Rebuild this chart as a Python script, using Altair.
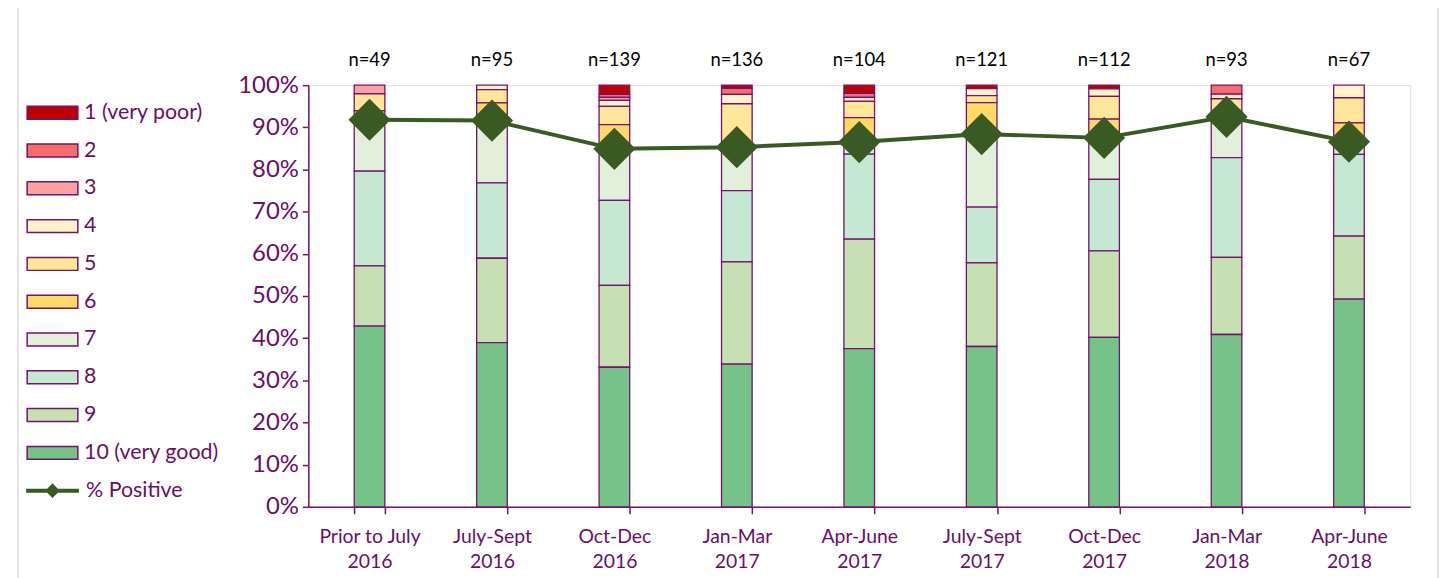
import altair as alt
import pandas as pd

categories = ["Prior to July 2016", "July-Sept 2016", "Oct-Dec 2016", "Jan-Mar 2017",
              "Apr-June 2017", "July-Sept 2017", "Oct-Dec 2017", "Jan-Mar 2018", "Apr-June 2018"]
n_values = [49, 95, 139, 136, 104, 121, 112, 93, 67]

ratings = ["1 (very poor)", "2", "3", "4", "5", "6", "7", "8", "9", "10 (very good)"]
rating_colors = ["#C00000", "#F86B6B", "#F8A2A2", "#FFF2CC", "#FFE699", "#FFD966",
                 "#E2EFDA", "#C6E7D2", "#C6E0B4", "#75C389"]

# respondent counts per rating, one value per period
r1 = [0, 0, 3, 1, 2, 1, 1, 0, 0]
r2 = [0, 0, 1, 2, 1, 0, 0, 2, 0]
r3 = [1, 0, 1, 0, 0, 0, 0, 0, 0]
r4 = [0, 1, 2, 3, 1, 2, 2, 1, 2]
r5 = [2, 3, 6, 14, 4, 2, 6, 3, 4]
r6 = [1, 4, 8, 0, 6, 9, 5, 1, 3]
r7 = [6, 14, 17, 14, 3, 21, 11, 9, 2]
r8 = [11, 17, 28, 23, 21, 16, 19, 22, 13]
r9 = [7, 19, 27, 33, 27, 24, 23, 17, 10]
r10 = [21, 37, 46, 46, 39, 46, 45, 38, 33]
rating_counts = [r1, r2, r3, r4, r5, r6, r7, r8, r9, r10]

positive_pct = [0.918, 0.916, 0.849, 0.853, 0.865, 0.884, 0.875, 0.925, 0.866]

PURPLE = "#72136C"
LABEL = "#6A0F66"
GREEN = "#3A5A23"
FONT = "Lato"

rows = []
for ri, r in enumerate(ratings):
    for ci, c in enumerate(categories):
        v = rating_counts[ri][ci]
        if v > 0:
            rows.append({"period": c, "rating": r, "count": v, "stack_order": len(ratings) - ri})
bars_df = pd.DataFrame(rows)
line_df = pd.DataFrame({"period": categories, "positive": positive_pct, "series": "% Positive"})
n_df = pd.DataFrame({"period": categories, "label": [f"n={n}" for n in n_values]})

x_enc = alt.X(
    "period:N", sort=categories, title=None,
    scale=alt.Scale(paddingInner=0.75, paddingOuter=0.375),
    axis=alt.Axis(
        labelAngle=0, tickBand="extent", tickSize=7, tickColor=PURPLE, tickWidth=1.5,
        domainColor=PURPLE, domainWidth=1.5, labelColor=LABEL, labelFont=FONT,
        labelFontSize=19.5, labelPadding=14, labelLineHeight=25,
        labelExpr="[slice(datum.label, 0, lastindexof(datum.label, ' ')), slice(datum.label, lastindexof(datum.label, ' ') + 1)]",
    ),
)

y_axis = alt.Axis(
    format=".0%", values=[i / 10 for i in range(11)], grid=False, tickSize=6,
    tickColor=PURPLE, tickWidth=1.5, domainColor=PURPLE, domainWidth=1.5,
    labelColor=LABEL, labelFont=FONT, labelFontSize=24, labelPadding=4,
)

frame = alt.Chart(alt.Data(values=[{}])).mark_rect(
    fillOpacity=0, stroke="#D9D9D9", strokeWidth=1.5
).encode(x=alt.value(-292), x2=alt.value(1136), y=alt.value(-82), y2=alt.value(520))

bars = alt.Chart(bars_df).mark_bar(stroke=PURPLE, strokeWidth=1.3).encode(
    x=x_enc,
    y=alt.Y("count:Q", stack="normalize", scale=alt.Scale(domain=[0, 1]), axis=y_axis, title=None),
    fill=alt.Fill(
        "rating:N",
        scale=alt.Scale(domain=ratings, range=rating_colors),
        legend=alt.Legend(
            title=None, orient="none", legendX=-268, legendY=17,
            symbolType="M-3.92,-1H3.92V1H-3.92Z", symbolSize=169,
            symbolStrokeColor=PURPLE, symbolStrokeWidth=1.5,
            labelFont=FONT, labelFontSize=21.5, labelColor=LABEL, labelOffset=21,
            rowPadding=15,
        ),
    ),
    order=alt.Order("stack_order:Q"),
)

line = alt.Chart(line_df).mark_line(strokeWidth=4).encode(
    x=alt.X("period:N", sort=categories),
    y=alt.Y("positive:Q"),
    stroke=alt.Stroke(
        "series:N",
        scale=alt.Scale(domain=["% Positive"], range=[GREEN]),
        legend=alt.Legend(
            title=None, orient="none", legendX=-268, legendY=397,
            symbolType="M-5.3,0H5.3M0,-0.9L0.9,0L0,0.9L-0.9,0Z", symbolSize=100,
            symbolStrokeWidth=4, symbolFillColor=GREEN,
            labelFont=FONT, labelFontSize=21.5, labelColor=LABEL, labelOffset=23,
        ),
    ),
)

points = alt.Chart(line_df).mark_point(shape="diamond", filled=True, size=1800, opacity=1, color=GREEN).encode(
    x=alt.X("period:N", sort=categories),
    y=alt.Y("positive:Q"),
)

ntext = alt.Chart(n_df).mark_text(font=FONT, fontSize=18.5, color="black", dy=-25, baseline="middle").encode(
    x=alt.X("period:N", sort=categories),
    y=alt.datum(1),
    text="label:N",
)

chart = alt.layer(frame, bars, line, points, ntext).properties(
    width=1108, height=424,
    padding={"left": 302, "top": 76, "right": 32, "bottom": 70},
    autosize=alt.AutoSizeParams(type="none"),
).configure_view(strokeWidth=0).configure(background="white")

chart.save("out.html", embed_options={"renderer": "svg", "actions": False})
